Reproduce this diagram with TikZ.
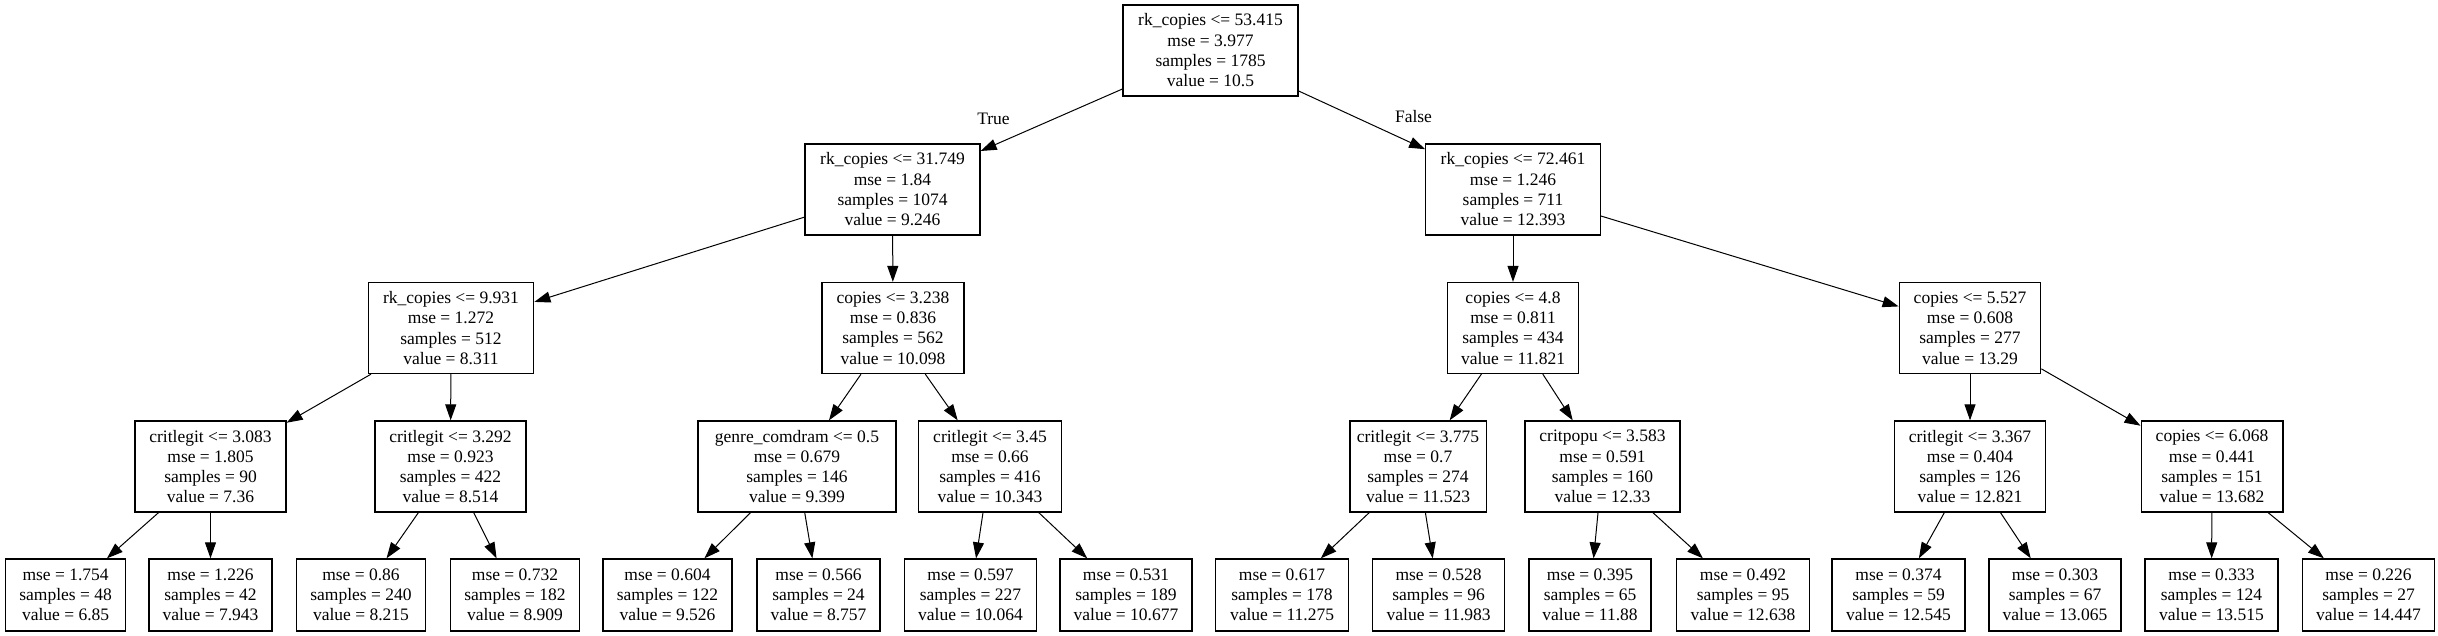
\documentclass[tikz,border=0pt]{standalone}
\usepackage{fontspec}
\setmainfont{Liberation Serif}
\usetikzlibrary{arrows.meta}
\newcommand{\tfont}{\fontsize{17.5}{20.3}\selectfont}
\begin{document}
\begin{tikzpicture}[x=1pt,y=-1pt,
  box/.style={draw, line width=1.3pt, rectangle, inner sep=0pt, align=center, font=\tfont},
  inode/.style={box, minimum height=91pt},
  leaf/.style={box, minimum height=72pt},
  edge/.style={-{Triangle[length=16pt,width=11pt]}, line width=1pt},
  lbl/.style={font=\tfont, inner sep=0pt}]
\useasboundingbox[fill=white] (0,0) rectangle (2438,636);
% level 0
\node[inode, minimum width=175pt] (root) at (1210.5,50.5) {rk\_copies <= 53.415\\mse = 3.977\\samples = 1785\\value = 10.5};
% level 1
\node[inode, minimum width=175pt] (n1) at (892.5,189.5) {rk\_copies <= 31.749\\mse = 1.84\\samples = 1074\\value = 9.246};
\node[inode, minimum width=174.5pt] (n2) at (1513,189.5) {rk\_copies <= 72.461\\mse = 1.246\\samples = 711\\value = 12.393};
% level 2
\node[inode, minimum width=165.5pt] (n3) at (451,328) {rk\_copies <= 9.931\\mse = 1.272\\samples = 512\\value = 8.311};
\node[inode, minimum width=142pt] (n4) at (893,328) {copies <= 3.238\\mse = 0.836\\samples = 562\\value = 10.098};
\node[inode, minimum width=131.5pt] (n5) at (1513,328) {copies <= 4.8\\mse = 0.811\\samples = 434\\value = 11.821};
\node[inode, minimum width=141.5pt] (n6) at (1970,328) {copies <= 5.527\\mse = 0.608\\samples = 277\\value = 13.29};
% level 3
\node[inode, minimum width=151pt] (a) at (210.5,466.5) {critlegit <= 3.083\\mse = 1.805\\samples = 90\\value = 7.36};
\node[inode, minimum width=151pt] (b) at (450.5,466.5) {critlegit <= 3.292\\mse = 0.923\\samples = 422\\value = 8.514};
\node[inode, minimum width=198pt] (c) at (797,466.5) {genre\_comdram <= 0.5\\mse = 0.679\\samples = 146\\value = 9.399};
\node[inode, minimum width=142.5pt] (d) at (990,466.5) {critlegit <= 3.45\\mse = 0.66\\samples = 416\\value = 10.343};
\node[inode, minimum width=136.3pt] (e) at (1418,466.5) {critlegit <= 3.775\\mse = 0.7\\samples = 274\\value = 11.523};
\node[inode, minimum width=155pt] (f) at (1602.5,466.5) {critpopu <= 3.583\\mse = 0.591\\samples = 160\\value = 12.33};
\node[inode, minimum width=151pt] (g) at (1970,466.5) {critlegit <= 3.367\\mse = 0.404\\samples = 126\\value = 12.821};
\node[inode, minimum width=141.7pt] (h) at (2212,466.5) {copies <= 6.068\\mse = 0.441\\samples = 151\\value = 13.682};
% leaves
\node[leaf, minimum width=120pt] (l1) at (65.6,595) {mse = 1.754\\samples = 48\\value = 6.85};
\node[leaf, minimum width=123pt] (l2) at (210.5,595) {mse = 1.226\\samples = 42\\value = 7.943};
\node[leaf, minimum width=129.5pt] (l3) at (361,595) {mse = 0.86\\samples = 240\\value = 8.215};
\node[leaf, minimum width=129.5pt] (l4) at (515,595) {mse = 0.732\\samples = 182\\value = 8.909};
\node[leaf, minimum width=129pt] (l5) at (667.5,595) {mse = 0.604\\samples = 122\\value = 9.526};
\node[leaf, minimum width=123pt] (l6) at (818.5,595) {mse = 0.566\\samples = 24\\value = 8.757};
\node[leaf, minimum width=132pt] (l7) at (970.5,595) {mse = 0.597\\samples = 227\\value = 10.064};
\node[leaf, minimum width=132pt] (l8) at (1126,595) {mse = 0.531\\samples = 189\\value = 10.677};
\node[leaf, minimum width=132.6pt] (l9) at (1282,595) {mse = 0.617\\samples = 178\\value = 11.275};
\node[leaf, minimum width=132pt] (l10) at (1438.6,595) {mse = 0.528\\samples = 96\\value = 11.983};
\node[leaf, minimum width=122pt] (l11) at (1590,595) {mse = 0.395\\samples = 65\\value = 11.88};
\node[leaf, minimum width=132.5pt] (l12) at (1743,595) {mse = 0.492\\samples = 95\\value = 12.638};
\node[leaf, minimum width=133pt] (l13) at (1898.5,595) {mse = 0.374\\samples = 59\\value = 12.545};
\node[leaf, minimum width=132pt] (l14) at (2055,595) {mse = 0.303\\samples = 67\\value = 13.065};
\node[leaf, minimum width=133pt] (l15) at (2211.5,595) {mse = 0.333\\samples = 124\\value = 13.515};
\node[leaf, minimum width=132.5pt] (l16) at (2368.5,595) {mse = 0.226\\samples = 27\\value = 14.447};
% labels
\node[lbl] (tl) at (993.5,119) {True};
\node[lbl] (fl) at (1413.5,117) {False};
% edges
\draw[edge] (root) -- (n1);
\draw[edge] (root) -- (n2);
\draw[edge] (n1) -- (n3);
\draw[edge] (n1) -- (n4);
\draw[edge] (n2) -- (n5);
\draw[edge] (n2) -- (n6);
\draw[edge] (n3) -- (a);
\draw[edge] (n3) -- (b);
\draw[edge] (n4) -- (c);
\draw[edge] (n4) -- (d);
\draw[edge] (n5) -- (e);
\draw[edge] (n5) -- (f);
\draw[edge] (n6) -- (g);
\draw[edge] (n6) -- (h);
\draw[edge] (a) -- (l1);
\draw[edge] (a) -- (l2);
\draw[edge] (b) -- (l3);
\draw[edge] (b) -- (l4);
\draw[edge] (c) -- (l5);
\draw[edge] (c) -- (l6);
\draw[edge] (d) -- (l7);
\draw[edge] (d) -- (l8);
\draw[edge] (e) -- (l9);
\draw[edge] (e) -- (l10);
\draw[edge] (f) -- (l11);
\draw[edge] (f) -- (l12);
\draw[edge] (g) -- (l13);
\draw[edge] (g) -- (l14);
\draw[edge] (h) -- (l15);
\draw[edge] (h) -- (l16);
\end{tikzpicture}
\end{document}
